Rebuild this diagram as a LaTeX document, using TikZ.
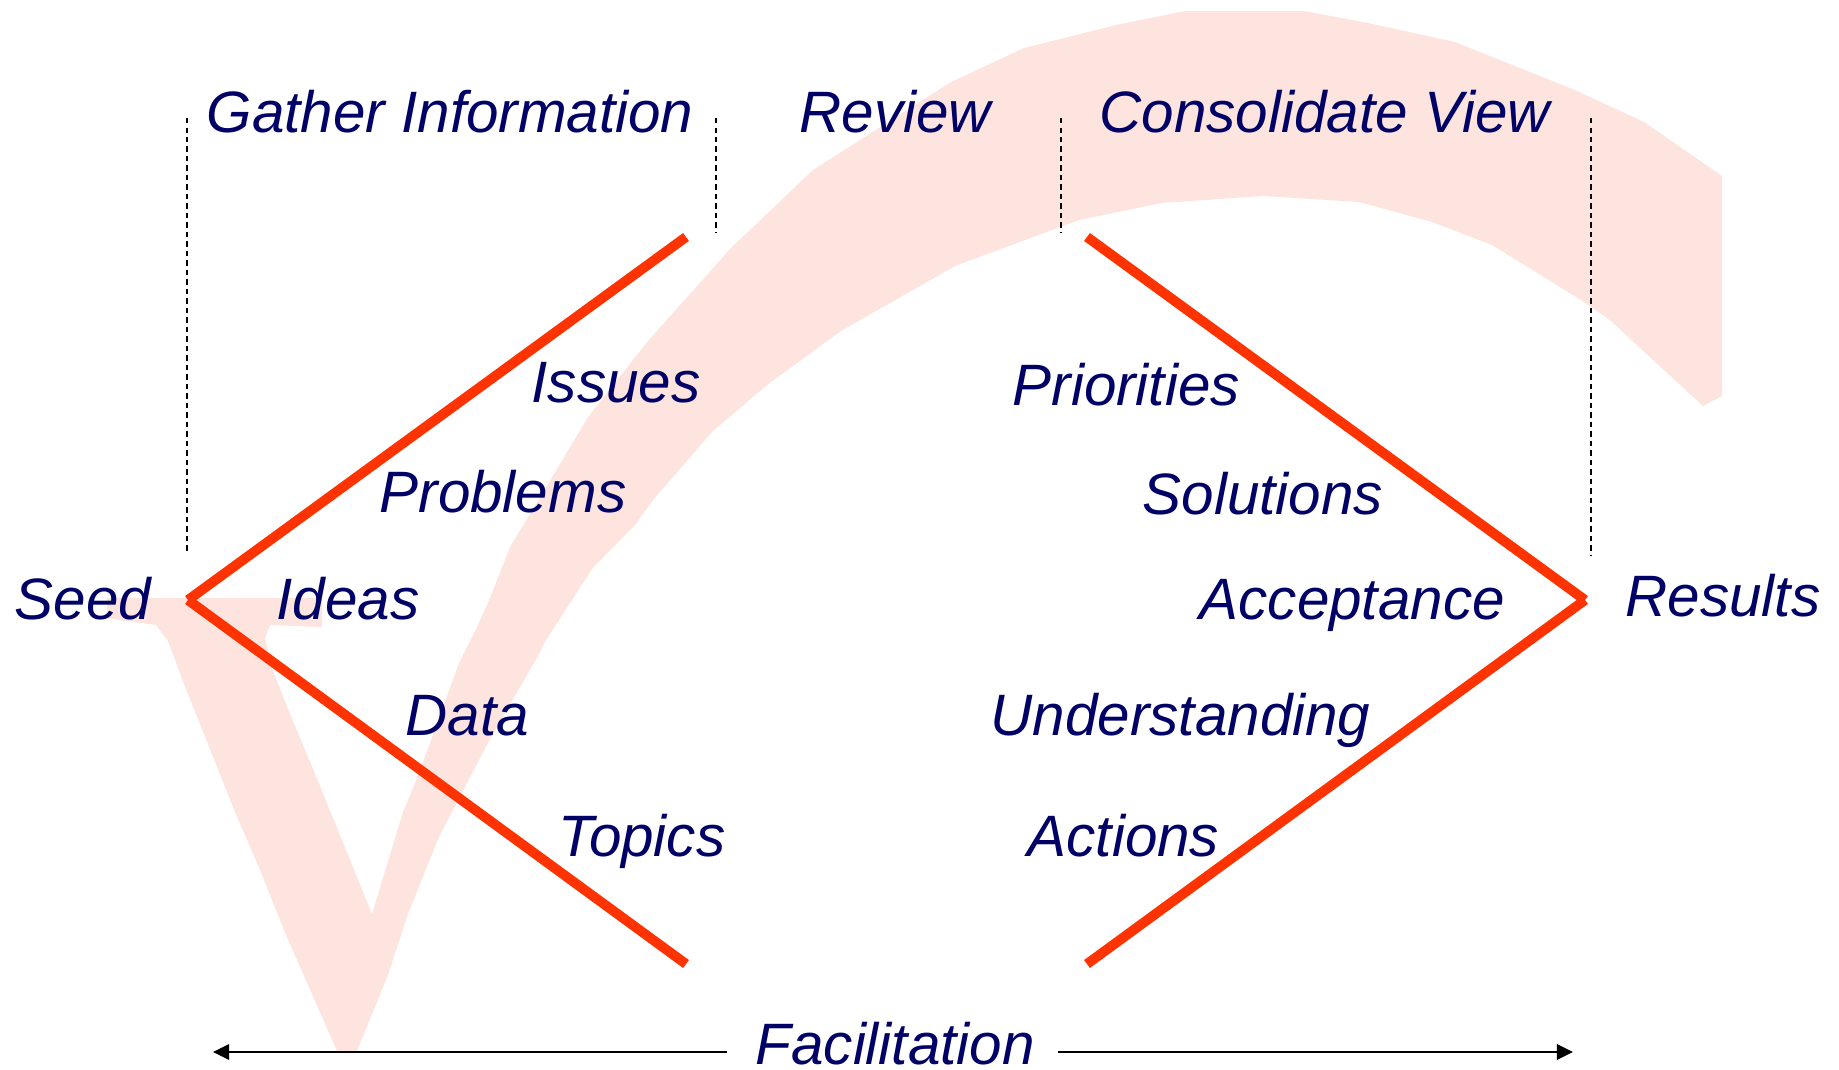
\documentclass[tikz,border=0pt]{standalone}
\usepackage{fontspec}
\setmainfont{Liberation Sans}
\usepackage{tikz}
\usetikzlibrary{arrows.meta}

\definecolor{rosa}{RGB}{253,228,223}
\definecolor{rojo}{RGB}{255,51,0}
\definecolor{marino}{RGB}{0,0,102}

\tikzset{
    etiqueta/.style={anchor=base west, inner sep=0pt, text=marino,
        font=\fontsize{16.6pt}{20pt}\selectfont\itshape},
    rama/.style={rojo, line width=2.8pt},
    divisoria/.style={black, line width=0.37pt, dash pattern=on 1.5pt off 1.2pt},
    flecha/.style={-{Triangle[length=4.6pt,width=4.4pt]}, line width=0.55pt}
}

\begin{document}
\begin{tikzpicture}[x=0.01cm, y=-0.01cm]
        \useasboundingbox (0,0) rectangle (1839,1069);

        % Marca de fondo
        \fill[rosa] (107,598) -- (322,598) -- (322,627) -- (270,625) -- (265,638)
            -- (273,671) -- (288,709) -- (316,776) -- (372,914) -- (403,812)
            -- (418,776) -- (459,663) -- (477,627) -- (490,598) -- (510,547)
            -- (538,501) -- (588,417) -- (648,341) -- (730,249) -- (813,170)
            -- (951,82) -- (1024,48) -- (1116,25) -- (1185,11) -- (1304,11)
            -- (1368,23) -- (1455,42) -- (1575,90) -- (1644,122) -- (1722,176)
            -- (1722,396) -- (1703,406) -- (1653,360) -- (1611,321) -- (1584,302)
            -- (1492,245) -- (1432,222) -- (1359,202) -- (1263,196) -- (1162,203)
            -- (1079,220) -- (955,266) -- (841,331) -- (767,385) -- (712,432)
            -- (653,500) -- (635,525) -- (592,569) -- (546,640) -- (538,656)
            -- (490,739) -- (439,837) -- (408,914) -- (388,975) -- (357,1051)
            -- (337,1051) -- (286,935) -- (260,870) -- (235,812) -- (186,689)
            -- (168,641) -- (156,625) -- (107,618) -- cycle;

        % Divisiones de etapas
        \draw[divisoria] (187,118) -- (187,554);
        \draw[divisoria] (716,118) -- (716,232);
        \draw[divisoria] (1061,118) -- (1061,232);
        \draw[divisoria] (1591,118) -- (1591,555);

        % Vértices
        \coordinate (semilla) at (188,600);
        \coordinate (resultado) at (1585,600);
        \coordinate (supizq) at (686,237);
        \coordinate (infizq) at (686,964);
        \coordinate (supder) at (1087,237);
        \coordinate (infder) at (1087,964);

        % Ramas
        \draw[rama] (semilla) -- (supizq);
        \draw[rama] (semilla) -- (infizq);
        \draw[rama] (supder) -- (resultado);
        \draw[rama] (infder) -- (resultado);

        % Etapas
        \node[etiqueta] (gather) at (206,132) {Gather Information};
        \node[etiqueta] (review) at (799,132) {Review};
        \node[etiqueta] (consolidate) at (1099,132) {Consolidate View};

        % Lado izquierdo
        \node[etiqueta] (seed) at (14,619) {Seed};
        \node[etiqueta] (issues) at (531,402) {Issues};
        \node[etiqueta] (problems) at (379,512) {Problems};
        \node[etiqueta] (ideas) at (276,619) {Ideas};
        \node[etiqueta] (data) at (405,735) {Data};
        \node[etiqueta] (topics) at (558,856) {Topics};

        % Lado derecho
        \node[etiqueta] (priorities) at (1012,405) {Priorities};
        \node[etiqueta] (solutions) at (1142,514) {Solutions};
        \node[etiqueta] (acceptance) at (1199,619) {Acceptance};
        \node[etiqueta] (understanding) at (990,735) {Understanding};
        \node[etiqueta] (actions) at (1027,856) {Actions};
        \node[etiqueta] (results) at (1625,616) {Results};

        % Facilitación
        \node[etiqueta, text depth=0pt] (facil) at (755,1064) {Facilitation};
        \coordinate (facilizq) at (727,1052);
        \coordinate (finizq) at (213,1052);
        \coordinate (facilder) at (1058,1052);
        \coordinate (finder) at (1573,1052);
        \draw[flecha] (facilizq) -- (finizq);
        \draw[flecha] (facilder) -- (finder);
    \end{tikzpicture}
\end{document}
